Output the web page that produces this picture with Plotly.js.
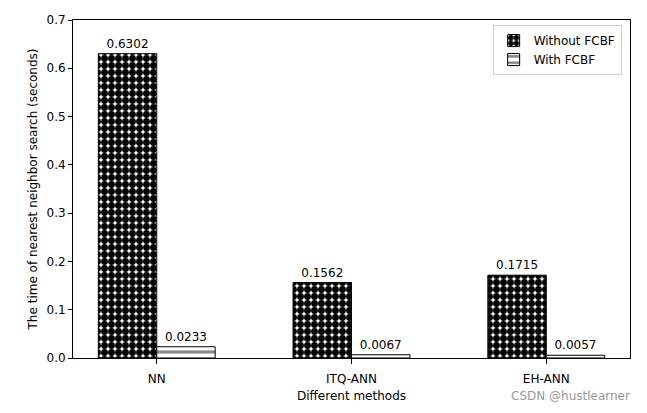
<!DOCTYPE html>
<html><head><meta charset="utf-8">
<script src="https://cdn.plot.ly/plotly-3.0.1.min.js"></script>
<style>body{margin:0;background:#fff}#c{width:647px;height:413px}</style>
</head><body><div id="c"></div>
<script>
const categories = ["NN", "ITQ-ANN", "EH-ANN"];
const withoutFCBF = [0.6302, 0.1562, 0.1715];
const withFCBF = [0.0233, 0.0067, 0.0057];
const yTicks = [0.0, 0.1, 0.2, 0.3, 0.4, 0.5, 0.6, 0.7];
const xPos = categories.map((_, i) => i);
const font = {family: "DejaVu Sans, sans-serif", size: 12, color: "#000"};

const traces = [
  {type: "bar", name: "Without FCBF", x: xPos, y: withoutFCBF, width: 0.3, offset: -0.3,
   text: withoutFCBF.map(v => v.toFixed(4)), textposition: "outside", cliponaxis: false,
   textfont: font,
   marker: {color: "#fff", line: {color: "#000", width: 1},
            pattern: {shape: ".", fgcolor: "#000", bgcolor: "#fff", size: 7, solidity: 0.75}}},
  {type: "bar", name: "With FCBF", x: xPos, y: withFCBF, width: 0.3, offset: 0,
   text: withFCBF.map(v => v.toFixed(4)), textposition: "outside", cliponaxis: false,
   textfont: font,
   marker: {color: "#fff", line: {color: "#000", width: 1},
            pattern: {shape: "-", fgcolor: "#888", bgcolor: "#fff", size: 8, solidity: 0.4}}}
];

const layout = {
  width: 647, height: 413,
  margin: {l: 73, r: 17, t: 20, b: 55},
  paper_bgcolor: "#fff", plot_bgcolor: "#fff",
  font: font,
  showlegend: true,
  legend: {x: 0.985, y: 0.985, xanchor: "right", yanchor: "top",
           bordercolor: "#ccc", borderwidth: 1, bgcolor: "#fff", font: font},
  xaxis: {range: [-0.43, 2.43], tickvals: xPos, ticktext: categories,
          showgrid: false, zeroline: false, showline: true, linecolor: "#000", linewidth: 1, mirror: true,
          ticks: "outside", ticklen: 5, tickcolor: "#000", ticklabelstandoff: 5,
          title: {text: "Different methods", font: font, standoff: 6}},
  yaxis: {range: [0, 0.7], tickvals: yTicks, ticktext: yTicks.map(v => v.toFixed(1)),
          showgrid: false, zeroline: false, showline: true, linecolor: "#000", linewidth: 1, mirror: true,
          ticks: "outside", ticklen: 4, tickcolor: "#000",
          title: {text: "The time of nearest neighbor search (seconds)", font: font, standoff: 6}},
  annotations: [{text: "CSDN @hustlearner", xref: "paper", yref: "paper", x: 1.004, y: -0.112,
                 xanchor: "right", yanchor: "middle", showarrow: false,
                 font: {family: "DejaVu Sans, sans-serif", size: 12, color: "#999"}}]
};
Plotly.newPlot("c", traces, layout, {displayModeBar: false});
</script></body></html>
